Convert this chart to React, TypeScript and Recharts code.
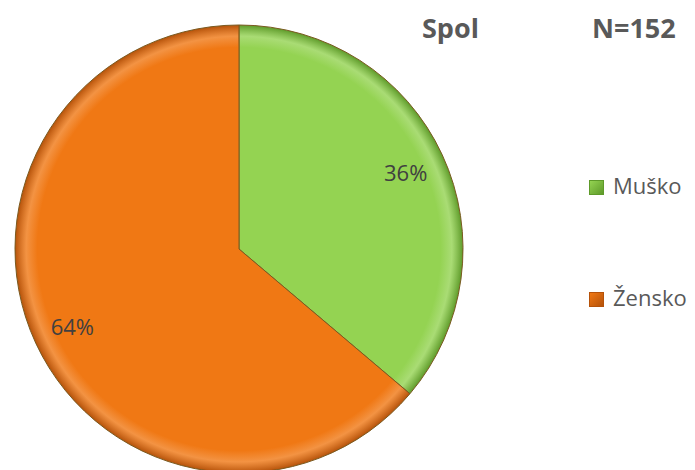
import { PieChart, Pie, Cell, Legend } from "recharts";

const categories = ["Muško", "Žensko"];
const counts = [55, 97];
const percentLabels = ["36%", "64%"];
const chartTitle = "Spol";
const sampleSize = "N=152";

const colors = ["#94d352", "#f07814"];
const darkColors = ["#5e9a2a", "#b5520a"];

const data = categories.map((name, i) => ({ name, value: counts[i], label: percentLabels[i] }));

const RAD = Math.PI / 180;

// percentage label placed inside each slice
function renderLabel(props: any) {
  const { cx, cy, midAngle, outerRadius, index } = props;
  const r = outerRadius * 0.82;
  const x = cx + r * Math.cos(-midAngle * RAD);
  const y = cy + r * Math.sin(-midAngle * RAD);
  return (
    <text
      x={x}
      y={y}
      fill="#404040"
      fontSize={22}
      fontFamily="'Open Sans', sans-serif"
      textAnchor="middle"
      dominantBaseline="central"
    >
      {data[index].label}
    </text>
  );
}

function LegendBox() {
  return (
    <div style={{ fontFamily: "'Open Sans', sans-serif", color: "#595959", fontSize: 22, lineHeight: "33px" }}>
      {data.map((d, i) => (
        <div key={d.name} style={{ display: "flex", alignItems: "center", height: 33, marginBottom: i === 0 ? 79 : 0 }}>
          <span
            style={{
              display: "inline-block",
              width: 13,
              height: 13,
              marginRight: 9,
              marginTop: 3,
              background: `linear-gradient(135deg, ${colors[i]}, ${darkColors[i]})`,
              border: `1px solid ${darkColors[i]}`,
            }}
          />
          {d.name}
        </div>
      ))}
    </div>
  );
}

const titleStyle = {
  position: "absolute" as const,
  top: 9,
  fontFamily: "'Open Sans', sans-serif",
  fontWeight: 700,
  fontSize: 27,
  color: "#595959",
};

export default function App() {
  return (
    <div style={{ position: "absolute", left: 0, top: 0, width: 695, height: 470, background: "#fff", overflow: "hidden" }}>
      <div style={{ ...titleStyle, left: 422 }}>{chartTitle}</div>
      <div style={{ ...titleStyle, left: 592 }}>{sampleSize}</div>
      <PieChart width={695} height={470} margin={{ top: 0, right: 0, bottom: 0, left: 0 }}>
        <defs>
          {colors.map((c, i) => (
            <radialGradient key={c} id={`grad${i}`} cx={239} cy={249} r={224} gradientUnits="userSpaceOnUse">
              <stop offset="0%" stopColor={c} />
              <stop offset="90%" stopColor={c} />
              <stop offset="95%" stopColor={c} stopOpacity={0.8} />
              <stop offset="100%" stopColor={darkColors[i]} />
            </radialGradient>
          ))}
        </defs>
        <Pie
          data={data}
          dataKey="value"
          nameKey="name"
          cx={239}
          cy={249}
          outerRadius={224}
          startAngle={90}
          endAngle={-270}
          stroke="#7a5a20"
          strokeWidth={1}
          label={renderLabel}
          labelLine={false}
          isAnimationActive={false}
        >
          {data.map((d, i) => (
            <Cell key={d.name} fill={`url(#grad${i})`} />
          ))}
        </Pie>
        <Legend
          layout="vertical"
          wrapperStyle={{ position: "absolute", left: 589, top: 169, width: 110 }}
          content={() => <LegendBox />}
        />
      </PieChart>
    </div>
  );
}
